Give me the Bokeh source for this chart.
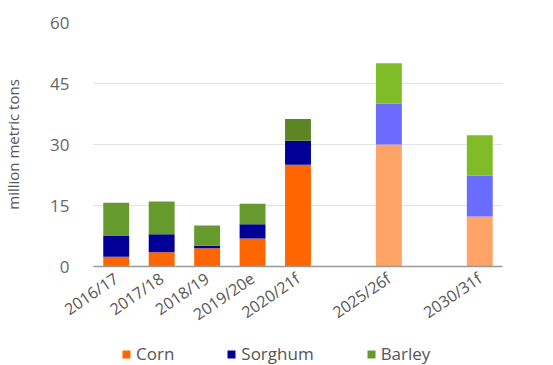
from bokeh.plotting import figure
from bokeh.layouts import column
from bokeh.models import FactorRange, Range1d, FixedTicker, Legend, LegendItem, ColumnDataSource
from bokeh.embed import file_html
from bokeh.resources import INLINE

seasons = ["2016/17", "2017/18", "2018/19", "2019/20e", "2020/21f", "2025/26f", "2030/31f"]
corn = [2.4, 3.5, 4.5, 6.9, 25.0, 30.0, 12.3]
sorghum = [5.2, 4.4, 0.6, 3.5, 5.9, 10.0, 10.0]
barley = [8.1, 8.1, 5.0, 5.0, 5.4, 10.0, 10.0]
y_ticks = [0, 15, 30, 45, 60]
series = ["Corn", "Sorghum", "Barley"]

corn_colors = ["#FF6600"] * 5 + ["#FFA366"] * 2
sorghum_colors = ["#000096"] * 5 + ["#6B6BFF"] * 2
barley_colors = ["#679A2C"] * 4 + ["#5C8624"] + ["#80BC28"] * 2

# category axis with blank spacer slots between the forecast years
factors = seasons[:5] + [" "] + [seasons[5]] + ["  "] + [seasons[6]]

src = ColumnDataSource(dict(
    x=seasons, corn=corn, sorghum=sorghum, barley=barley,
    corn_c=corn_colors, sorghum_c=sorghum_colors, barley_c=barley_colors,
))
stack = ["corn", "sorghum", "barley"]
fills = ["corn_c", "sorghum_c", "barley_c"]

p = figure(width=553, height=337, x_range=FactorRange(*factors, range_padding=0),
           y_range=Range1d(0, 60), output_backend="svg", toolbar_location=None,
           min_border_left=90, min_border_right=51, min_border_top=22, min_border_bottom=67)

p.vbar_stack(stack, x="x", width=0.57, source=src, fill_color=fills, line_color=None)

p.outline_line_color = None
p.xgrid.grid_line_color = None
p.ygrid.grid_line_color = "#E2E2E2"
p.ygrid.grid_line_width = 1.2

p.yaxis.ticker = FixedTicker(ticks=y_ticks)
p.yaxis.axis_line_color = None
p.yaxis.major_tick_line_color = None
p.yaxis.minor_tick_line_color = None
p.yaxis.major_label_text_font = "Open Sans"
p.yaxis.major_label_text_font_size = "17px"
p.yaxis.major_label_text_color = "#666666"
p.yaxis.major_label_standoff = 18
p.yaxis.axis_label = "million metric tons"
p.yaxis.axis_label_text_font = "Open Sans"
p.yaxis.axis_label_text_font_style = "normal"
p.yaxis.axis_label_text_font_size = "15px"
p.yaxis.axis_label_text_color = "#555555"
p.yaxis.axis_label_standoff = 24

p.xaxis.axis_line_color = "#999999"
p.xaxis.axis_line_width = 1.5
p.xaxis.major_tick_line_color = None
p.xaxis.minor_tick_line_color = None
p.xaxis.major_label_orientation = 0.6
p.xaxis.major_label_text_font = "Open Sans"
p.xaxis.major_label_text_font_size = "16px"
p.xaxis.major_label_text_color = "#555555"
p.xaxis.major_label_standoff = 4

# legend strip under the chart (its bars lie outside its visible range)
lg = figure(width=553, height=28, x_range=p.x_range, y_range=Range1d(1000, 1001),
            output_backend="svg", toolbar_location=None,
            x_axis_location=None, y_axis_location=None,
            min_border_left=0, min_border_right=0, min_border_top=0, min_border_bottom=0)
lg.outline_line_color = None
lg.xgrid.visible = False
lg.ygrid.visible = False
lrs = lg.vbar_stack(stack, x="x", width=0.57, source=src, fill_color=fills, line_color=None)

legend = Legend(items=[LegendItem(label=s, renderers=[r]) for s, r in zip(series, lrs)],
                orientation="horizontal", location=(28, 0),
                background_fill_alpha=0, border_line_color=None,
                glyph_width=10, glyph_height=10, label_standoff=5, spacing=52,
                label_text_font="Open Sans", label_text_font_size="17px",
                label_text_color="#555555", padding=0, margin=0)
lg.add_layout(legend, "center")

layout = column(p, lg, spacing=0)
open("out.html", "w").write(file_html(layout, INLINE))
